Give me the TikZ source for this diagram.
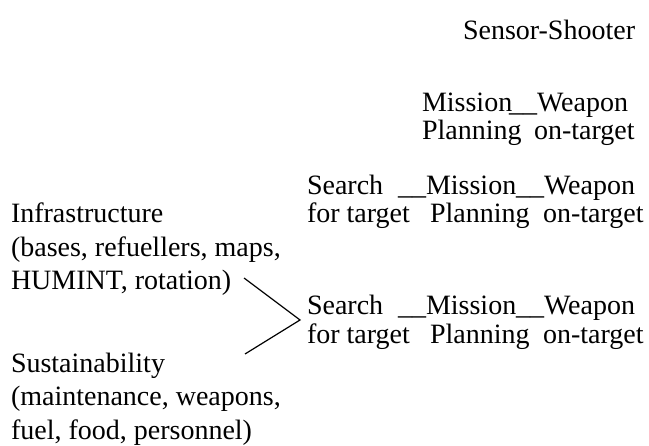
\documentclass[tikz,border=0pt]{standalone}
\usepackage{fontspec}
\setmainfont{Liberation Serif}
\tikzset{
  lbl/.style={anchor=base west, inner sep=0pt, outer sep=0pt,
    font=\fontsize{28bp}{28bp}\selectfont},
  block/.style={anchor=base west, inner sep=0pt, outer sep=0pt,
    font=\fontsize{28bp}{33.5bp}\selectfont},
  joinline/.style={line width=1.2bp}
}
\begin{document}
\begin{tikzpicture}[x=1bp, y=-1bp]
  \useasboundingbox (0,0) rectangle (649,446);

  % header
  \node[lbl] (title) at (463,40) {Sensor-Shooter};

  % chain 1: planning -> weapon
  \node[lbl] (m1a) at (422,112) {Mission};
  \node[lbl] (w1a) at (509,112) {\_\_Weapon};
  \node[lbl] (p1b) at (422,140) {Planning};
  \node[lbl] (o1b) at (534,140) {on-target};

  % chain 2: search -> planning -> weapon
  \node[lbl] (s2a) at (307,195) {Search};
  \node[lbl] (m2a) at (398,195) {\_\_Mission};
  \node[lbl] (w2a) at (516,195) {\_\_Weapon};
  \node[lbl] (s2b) at (307,223) {for target};
  \node[lbl] (p2b) at (430,223) {Planning};
  \node[lbl] (o2b) at (543,223) {on-target};

  % chain 3: supported search -> planning -> weapon
  \node[lbl] (s3a) at (307,315) {Search};
  \node[lbl] (m3a) at (398,315) {\_\_Mission};
  \node[lbl] (w3a) at (516,315) {\_\_Weapon};
  \node[lbl] (s3b) at (307,343) {for target};
  \node[lbl] (p3b) at (430,343) {Planning};
  \node[lbl] (o3b) at (543,343) {on-target};

  % supporting factors
  \node[block] (infra) at (11,223) {\begin{tabular}[t]{@{}l@{}}Infrastructure\\(bases, refuellers, maps,\\HUMINT, rotation)\end{tabular}};
  \node[block] (sust) at (11,372) {\begin{tabular}[t]{@{}l@{}}Sustainability\\(maintenance, weapons,\\fuel, food, personnel)\end{tabular}};

  % bracket joining both factors into chain 3
  \coordinate (infraEnd) at (244,278);
  \coordinate (sustEnd) at (245,354);
  \coordinate (tip) at (300,320);
  \draw[joinline] (infraEnd) -- (tip) -- (sustEnd);
\end{tikzpicture}
\end{document}
